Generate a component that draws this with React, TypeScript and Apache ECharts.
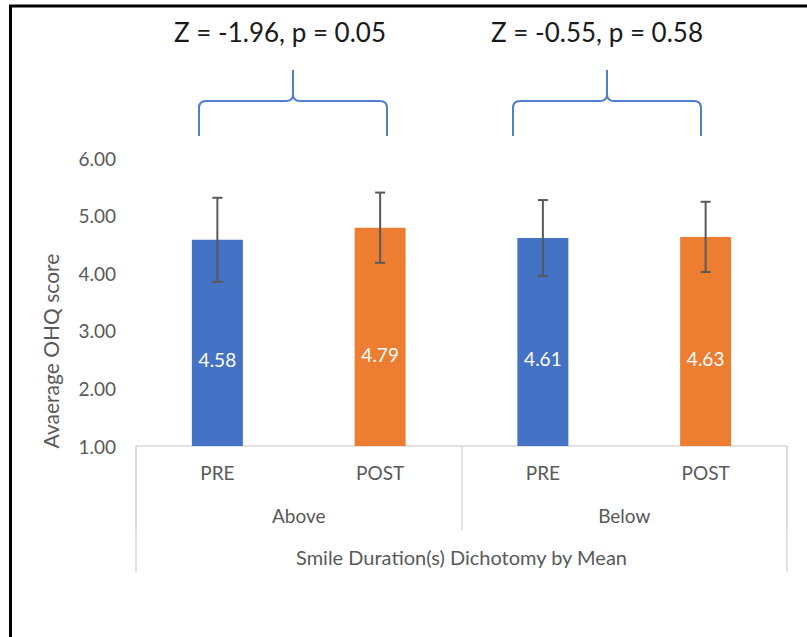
import React, { useEffect, useRef } from "react";
import * as echarts from "echarts";

const categories = ["PRE", "POST", "PRE", "POST"];
const groups = ["Above", "Below"];
const axisTitle = "Smile Duration(s) Dichotomy by Mean";
const yTitle = "Avaerage OHQ score";
const means = [4.58, 4.79, 4.61, 4.63];
const errors = [0.73, 0.61, 0.66, 0.61];
const barColors = ["#4472C4", "#ED7D31", "#4472C4", "#ED7D31"];
const statLabels = ["Z = -1.96, p = 0.05", "Z = -0.55, p = 0.58"];
const yMin = 1;
const yMax = 6;
const yStep = 1;

const braceD =
  "M0,66 L0,38 Q0,31 7,31 L87,31 Q94,31 94,24 L94,0 L94,24 Q94,31 101,31 L181,31 Q188,31 188,38 L188,66";
echarts.graphic.registerShape("brace", echarts.graphic.extendPath(braceD, {}) as any);

const FONT = "Lato, 'Open Sans', sans-serif";
const GRAY = "#595959";
const LINE = "#d9d9d9";

export default function App() {
  const ref = useRef<HTMLDivElement>(null);
  useEffect(() => {
    if (!ref.current) return;
    const chart = echarts.init(ref.current, null, { renderer: "svg" });
    const option: any = {
      animation: false,
      backgroundColor: "#ffffff",
      textStyle: { fontFamily: FONT },
      grid: { left: 136, right: 20, top: 158, bottom: 191 },
      xAxis: [
        {
          type: "category",
          data: categories,
          axisLine: { show: true, lineStyle: { color: LINE, width: 1.5 } },
          axisTick: { show: false },
          axisLabel: { color: GRAY, fontSize: 19, margin: 17, fontFamily: FONT },
        },
        {
          type: "category",
          data: groups,
          position: "bottom",
          axisLine: { show: false },
          axisTick: { show: true, length: 84, lineStyle: { color: LINE, width: 1.5 } },
          axisLabel: { color: GRAY, fontSize: 19, margin: 60, fontFamily: FONT },
        },
        {
          type: "category",
          data: [axisTitle],
          position: "bottom",
          axisLine: { show: false },
          axisTick: { show: true, length: 126, lineStyle: { color: LINE, width: 1.5 } },
          axisLabel: { color: GRAY, fontSize: 20, margin: 101, fontFamily: FONT },
        },
      ],
      yAxis: {
        type: "value",
        min: yMin,
        max: yMax,
        interval: yStep,
        axisLine: { show: false },
        axisTick: { show: false },
        splitLine: { show: false },
        axisLabel: {
          color: GRAY,
          fontSize: 19,
          margin: 20,
          fontFamily: FONT,
          formatter: (v: number) => v.toFixed(2),
        },
      },
      series: [
        {
          type: "bar",
          xAxisIndex: 0,
          barWidth: 51,
          data: means.map((v, i) => ({ value: v, itemStyle: { color: barColors[i] } })),
          label: {
            show: true,
            position: ["50%", "58%"],
            align: "center",
            verticalAlign: "middle",
            color: "#ffffff",
            fontSize: 19,
            fontFamily: FONT,
            formatter: (p: any) => Number(p.value).toFixed(2),
          },
        },
        {
          type: "custom",
          xAxisIndex: 0,
          z: 5,
          data: means.map((m, i) => [i, m - errors[i], m + errors[i]]),
          encode: { x: 0, y: [1, 2] },
          renderItem: (params: any, api: any) => {
            const x = api.value(0);
            const pHi = api.coord([x, api.value(2)]);
            const pLo = api.coord([x, api.value(1)]);
            const w = 5;
            const st = { stroke: GRAY, lineWidth: 2 };
            return {
              type: "group",
              children: [
                { type: "line", shape: { x1: pHi[0], y1: pHi[1], x2: pLo[0], y2: pLo[1] }, style: st },
                { type: "line", shape: { x1: pHi[0] - w, y1: pHi[1], x2: pHi[0] + w, y2: pHi[1] }, style: st },
                { type: "line", shape: { x1: pLo[0] - w, y1: pLo[1], x2: pLo[0] + w, y2: pLo[1] }, style: st },
              ],
            };
          },
        },
      ],
      graphic: [
        {
          type: "text",
          x: 50,
          y: 351,
          rotation: Math.PI / 2,
          style: {
            text: yTitle,
            fill: GRAY,
            fontSize: 21,
            fontFamily: FONT,
            align: "center",
            verticalAlign: "middle",
          },
        },
        {
          type: "text",
          x: 280,
          y: 32,
          style: {
            text: statLabels[0],
            fill: "#1a1a1a",
            fontSize: 26,
            fontFamily: FONT,
            align: "center",
            verticalAlign: "middle",
          },
        },
        {
          type: "text",
          x: 597,
          y: 32,
          style: {
            text: statLabels[1],
            fill: "#1a1a1a",
            fontSize: 26,
            fontFamily: FONT,
            align: "center",
            verticalAlign: "middle",
          },
        },
        {
          type: "brace",
          x: 199,
          y: 70,
          style: { stroke: "#4f7fd0", lineWidth: 2, fill: "none" },
        },
        {
          type: "brace",
          x: 513,
          y: 70,
          style: { stroke: "#4f7fd0", lineWidth: 2, fill: "none" },
        },
        {
          type: "line",
          shape: { x1: 9, y1: 6, x2: 807, y2: 6 },
          style: { stroke: "#000000", lineWidth: 3 },
        },
        {
          type: "line",
          shape: { x1: 10.5, y1: 5, x2: 10.5, y2: 637 },
          style: { stroke: "#000000", lineWidth: 3 },
        },
      ],
    };
    chart.setOption(option);
    return () => chart.dispose();
  }, []);
  return (
    <div
      ref={ref}
      style={{ position: "fixed", left: 0, top: 0, width: 807, height: 637 }}
    />
  );
}
